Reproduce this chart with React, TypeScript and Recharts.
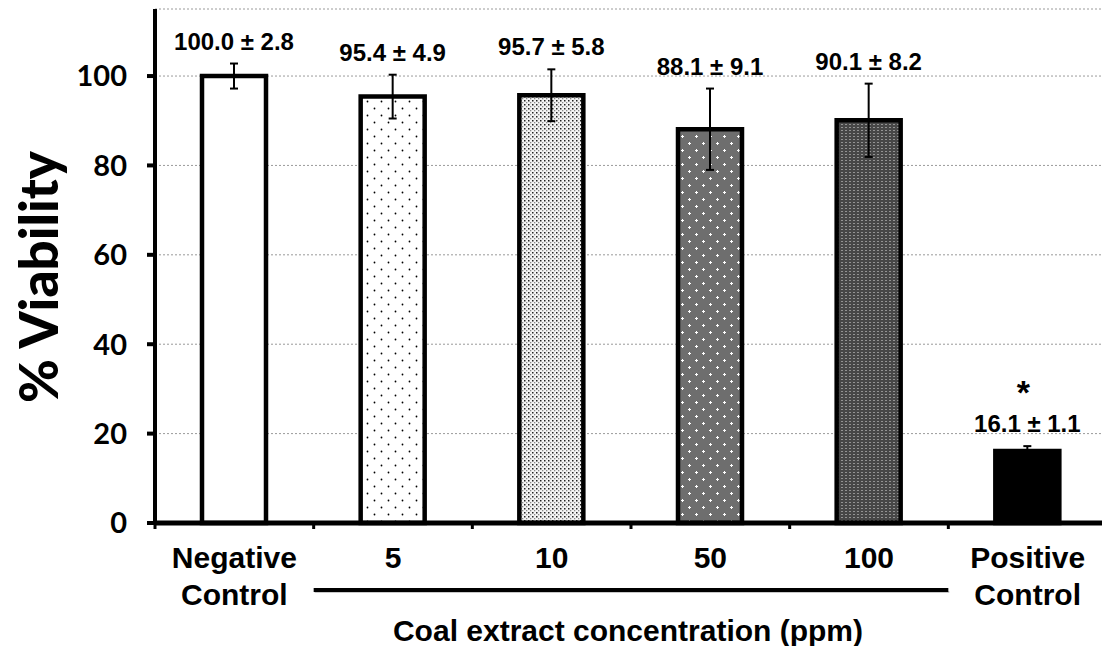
import React from "react";
import {
  Bar,
  BarChart,
  CartesianGrid,
  Cell,
  ErrorBar,
  LabelList,
  XAxis,
  YAxis,
} from "recharts";

const CATEGORIES = ["Negative Control", "5", "10", "50", "100", "Positive Control"];
const VIABILITY = [100.0, 95.4, 95.7, 88.1, 90.1, 16.1];
const SD = [2.8, 4.9, 5.8, 9.1, 8.2, 1.1];
const SIGNIFICANT = [false, false, false, false, false, true];
const Y_TICKS = [0, 20, 40, 60, 80, 100];
const X_TITLE = "Coal extract concentration (ppm)";
const Y_TITLE = "% Viability";

// bar fills, one per category
const FILLS = [
  "#ffffff",
  "url(#dotsSparse)",
  "url(#dotsDense)",
  "url(#gridPlus)",
  "url(#gridDark)",
  "#000000",
];

const CHART_W = 1110;
const CHART_H = 646;
const Y_AXIS_W = 155;
const MARGIN = { top: 9, right: 3, left: 0, bottom: 0 };
const PLOT_W = CHART_W - Y_AXIS_W - MARGIN.left - MARGIN.right;
const BAND = PLOT_W / CATEGORIES.length;

const ARIAL = "'Liberation Sans', Arial, sans-serif";
const CALIBRI = "Lato, 'Open Sans', sans-serif";

const data = CATEGORIES.map((name, i) => ({
  name,
  viability: VIABILITY[i],
  sd: SD[i],
}));

const CategoryTick = (props: any) => {
  const { x, y, payload, index } = props;
  const lines = String(payload.value).split(" ");
  return (
    <g>
      <line x1={x - BAND / 2} x2={x - BAND / 2} y1={y} y2={y + 6} stroke="#000" strokeWidth={3} />
      {index === CATEGORIES.length - 1 && (
        <line x1={x + BAND / 2} x2={x + BAND / 2} y1={y} y2={y + 6} stroke="#000" strokeWidth={3} />
      )}
      <text
        x={x}
        y={y + 45}
        textAnchor="middle"
        fontFamily={ARIAL}
        fontWeight={700}
        fontSize={30}
        fill="#000"
      >
        {lines.map((l, i) => (
          <tspan key={i} x={x} dy={i === 0 ? 0 : 37}>
            {l}
          </tspan>
        ))}
      </text>
    </g>
  );
};

const XTitle = (props: any) => {
  const vb = props.viewBox;
  const band = vb.width / CATEGORIES.length;
  const x1 = vb.x + band;
  const x2 = vb.x + band * (CATEGORIES.length - 1);
  return (
    <g>
      <line x1={x1 + 1} x2={x2 + 1} y1={vb.y + 69} y2={vb.y + 69} stroke="#c8c8c8" strokeWidth={2} />
      <line x1={x1} x2={x2} y1={vb.y + 67} y2={vb.y + 67} stroke="#000" strokeWidth={4} />
      <text
        x={(x1 + x2) / 2 - 3}
        y={vb.y + 118}
        textAnchor="middle"
        fontFamily={ARIAL}
        fontWeight={700}
        fontSize={30}
        fill="#000"
      >
        {X_TITLE}
      </text>
    </g>
  );
};

const YTitle = (props: any) => {
  const vb = props.viewBox;
  const cx = vb.x + 37;
  const cy = vb.y + vb.height / 2 + 11;
  return (
    <text
      x={cx}
      y={cy}
      transform={`rotate(-90, ${cx}, ${cy})`}
      textAnchor="middle"
      dominantBaseline="central"
      fontFamily={CALIBRI}
      fontWeight={900}
      fontSize={53}
      fill="#000"
    >
      {Y_TITLE}
    </text>
  );
};

const ValueLabel = (props: any) => {
  const { x, y, width, height, index } = props;
  const mean = VIABILITY[index];
  const sd = SD[index];
  const top = y - (sd * height) / mean;
  const cx = x + width / 2;
  const base = top - 14;
  return (
    <g>
      <text
        x={cx}
        y={base}
        textAnchor="middle"
        fontFamily={ARIAL}
        fontWeight={700}
        fontSize={24}
        fill="#000"
      >
        {`${mean.toFixed(1)} ± ${sd.toFixed(1)}`}
      </text>
      {SIGNIFICANT[index] && (
        <text
          x={cx - 4}
          y={base - 28}
          textAnchor="middle"
          fontFamily={ARIAL}
          fontWeight={700}
          fontSize={34}
          fill="#000"
        >
          *
        </text>
      )}
    </g>
  );
};

export default function App() {
  return (
    <div
      style={{
        position: "absolute",
        left: 0,
        top: 0,
        width: 1102,
        height: 646,
        overflow: "hidden",
        background: "#fff",
      }}
    >
      <BarChart width={CHART_W} height={CHART_H} data={data} margin={MARGIN}>
        <defs>
          <pattern id="dotsSparse" width={14} height={14} patternUnits="userSpaceOnUse">
            <rect width={14} height={14} fill="#fff" />
            <circle cx={3.5} cy={3.5} r={0.9} fill="#000" />
            <circle cx={10.5} cy={10.5} r={0.9} fill="#000" />
          </pattern>
          <pattern id="dotsDense" width={4} height={4} patternUnits="userSpaceOnUse">
            <rect width={4} height={4} fill="#f4f4f4" />
            <rect x={0} y={0} width={1.5} height={1.5} fill="#222" />
            <rect x={2} y={2} width={1.3} height={1.3} fill="#888" />
          </pattern>
          <pattern id="gridPlus" width={14} height={14} patternUnits="userSpaceOnUse">
            <rect width={14} height={14} fill="#6e6e6e" />
            <rect x={2} y={3} width={3} height={1} fill="#fff" />
            <rect x={3} y={2} width={1} height={3} fill="#fff" />
            <rect x={9} y={10} width={3} height={1} fill="#fff" />
            <rect x={10} y={9} width={1} height={3} fill="#fff" />
          </pattern>
          <pattern id="gridDark" width={4} height={3} patternUnits="userSpaceOnUse">
            <rect width={4} height={3} fill="#474747" />
            <rect x={1.5} y={1} width={1} height={1} fill="#e0e0e0" />
          </pattern>
        </defs>
        <CartesianGrid
          vertical={false}
          stroke="#9a9a9a"
          strokeDasharray="2 2"
          strokeWidth={1}
        />
        <XAxis
          dataKey="name"
          height={123}
          interval={0}
          axisLine={{ stroke: "#000", strokeWidth: 5 }}
          tickLine={false}
          tickSize={0}
          tickMargin={0}
          tick={<CategoryTick />}
          label={{ content: <XTitle /> }}
        />
        <YAxis
          width={Y_AXIS_W}
          domain={[0, 115]}
          ticks={Y_TICKS}
          interval={0}
          axisLine={{ stroke: "#000", strokeWidth: 4 }}
          tickLine={{ stroke: "#000", strokeWidth: 4 }}
          tickSize={8}
          tickMargin={20}
          tick={{ fontFamily: CALIBRI, fontWeight: 700, fontSize: 29, fill: "#000" }}
          label={{ content: <YTitle /> }}
        />
        <Bar dataKey="viability" barSize={64} isAnimationActive={false}>
          {data.map((d, i) => (
            <Cell key={d.name} fill={FILLS[i]} stroke="#000" strokeWidth={4.5} />
          ))}
          <ErrorBar dataKey="sd" direction="y" width={4} strokeWidth={2} stroke="#000" />
          <LabelList dataKey="viability" content={<ValueLabel />} />
        </Bar>
      </BarChart>
    </div>
  );
}
